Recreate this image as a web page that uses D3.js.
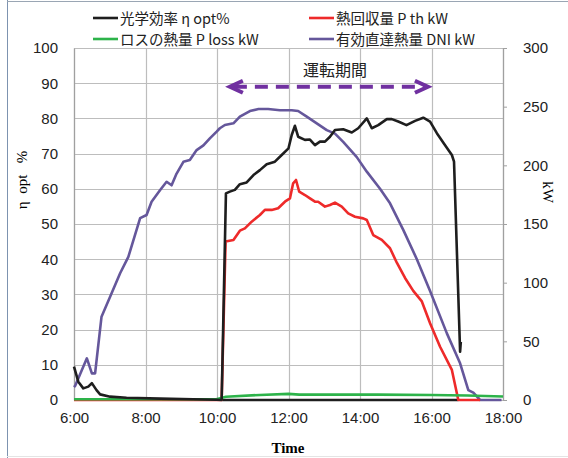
<!DOCTYPE html>
<html>
<head>
<meta charset="utf-8">
<script src="https://cdn.jsdelivr.net/npm/d3@7"></script>
<style>
  body { margin: 0; background: #fff; }
  svg { display: block; }
  .tick text { font-family: "Liberation Sans", Arial, sans-serif; font-size: 15px; fill: #222; }
  .leg { font-family: "Noto Sans CJK JP", sans-serif; font-size: 14.5px; fill: #222; }
</style>
</head>
<body>
<svg width="568" height="458"></svg>
<script>
// time in hours, value
var etaOpt = [[6.0,9.5],[6.12,5.2],[6.26,3.3],[6.40,3.8],[6.50,4.8],[6.63,2.8],[6.73,1.6],[7.01,0.95],[7.47,0.66],[8.41,0.4],[9.33,0.2],[9.99,0.05],[10.13,0],
  [10.25,58.7],[10.36,59.2],[10.50,59.7],[10.64,61.3],[10.83,61.8],[11.02,63.9],[11.20,65.3],[11.39,67],[11.62,67.7],[11.81,69.6],[12.0,71.5],[12.09,75.3],[12.18,77.9],
  [12.27,74.8],[12.46,73.9],[12.60,74],[12.74,72.4],[12.88,73.4],[13.02,73.4],[13.16,74.8],[13.30,76.7],[13.53,76.9],[13.77,76],[13.95,77.2],[14.19,80],[14.33,77.2],
  [14.51,78.1],[14.75,79.8],[14.89,79.8],[15.07,79.1],[15.30,78.1],[15.54,79.3],[15.77,80.2],[15.96,79.1],[16.15,75.8],[16.38,72.4],[16.57,69.6],[16.63,67.7],[16.80,13.7],[16.82,16.5]];
var etaBase = [[10.15,0],[16.75,0]];
var pTh = [[6.0,0],[10.13,0],[10.24,135],[10.46,136.4],[10.64,144.3],[10.78,146.3],[10.97,152],[11.20,157.7],[11.34,162],[11.53,162],[11.71,163.4],[11.90,169],[12.04,171.8],
  [12.13,184.7],[12.21,187.5],[12.30,177.5],[12.46,174.7],[12.60,171.8],[12.74,169],[12.83,169],[13.02,164.8],[13.16,166.2],[13.30,168.2],[13.49,164.8],[13.67,159],
  [13.86,156.2],[14.09,154.8],[14.19,153.4],[14.37,140.6],[14.61,136.4],[14.84,129.3],[15.03,117],[15.26,104],[15.49,93],[15.73,84],[15.96,65.4],[16.24,45.4],[16.57,25.6],[16.75,0],[17.36,0]];
var pLoss = [[6.0,0.6],[9.98,0.6],[10.25,2.8],[11.2,4.3],[12.0,5.2],[12.3,4.6],[14.5,4.6],[16.0,4.3],[17.0,3.8],[18.0,3.0]];
var dni = [[6.0,11],[6.03,12],[6.36,35.5],[6.50,22.7],[6.59,22.7],[6.77,71],[7.01,88],[7.29,108],[7.52,122],[7.85,155],[8.03,157.7],[8.17,169],[8.41,179],[8.59,186],
  [8.73,183],[8.87,193],[9.06,203],[9.24,204.5],[9.43,213],[9.62,217],[9.80,223],[9.99,228.7],[10.08,231.6],[10.22,234.4],[10.46,235.8],[10.64,241.5],[10.92,246.3],
  [11.16,248],[11.43,248],[11.76,247],[12.09,247],[12.27,246.3],[12.51,241.5],[12.79,235.8],[13.07,230],[13.30,227],[13.53,220],[13.91,207],[14.19,194.6],[14.56,180],
  [14.84,167.6],[15.21,145],[15.59,120],[15.96,93],[16.43,56.8],[16.80,31.3],[17.03,8.5],[17.17,6.2],[17.36,0],[17.96,0]];

var xTicks = [6, 8, 10, 12, 14, 16, 18];
var leftTicks = [0, 10, 20, 30, 40, 50, 60, 70, 80, 90, 100];
var rightTicks = [0, 50, 100, 150, 200, 250, 300];
var period = [10.36, 15.9];   // 運転期間 arrow, hours

var legendItems = [
  {name: "光学効率 η opt%", color: "#1e1e1e"},
  {name: "熱回収量 P th kW", color: "#ee2a2a"},
  {name: "ロスの熱量 P loss kW", color: "#2db34a"},
  {name: "有効直達熱量 DNI kW", color: "#65579b"}
];

var svg = d3.select("svg");
var x = d3.scaleLinear().domain([6, 18]).range([74, 503]);
var yL = d3.scaleLinear().domain([0, 100]).range([400, 48]);
var yR = d3.scaleLinear().domain([0, 300]).range([400, 48]);

// outer frame bits
svg.append("line").attr("x1", 7.5).attr("x2", 7.5).attr("y1", 0).attr("y2", 458).style("stroke", "#7d93b0").style("stroke-width", 1);
svg.append("line").attr("x1", 7).attr("x2", 568).attr("y1", 1.5).attr("y2", 1.5).style("stroke", "#9aa6b4").style("stroke-width", 1);
svg.append("line").attr("x1", 7).attr("x2", 568).attr("y1", 456.5).attr("y2", 456.5).style("stroke", "#e4e4e4").style("stroke-width", 1);

// grid
svg.append("g").selectAll("line").data(leftTicks).enter().append("line")
  .attr("x1", x(6)).attr("x2", x(18))
  .attr("y1", function(d) { return Math.round(yL(d)) + 0.5; })
  .attr("y2", function(d) { return Math.round(yL(d)) + 0.5; })
  .style("stroke", "#bdbdbd").style("stroke-width", 1.2);
svg.append("g").selectAll("line").data(xTicks).enter().append("line")
  .attr("x1", function(d) { return Math.round(x(d)) + 0.5; })
  .attr("x2", function(d) { return Math.round(x(d)) + 0.5; })
  .attr("y1", yL(100)).attr("y2", yL(0))
  .style("stroke", "#bdbdbd").style("stroke-width", 1.2);

// axes
var axL = svg.append("g").attr("transform", "translate(" + x(6) + ",0)")
  .call(d3.axisLeft(yL).tickValues(leftTicks).tickSize(0).tickPadding(16));
var axR = svg.append("g").attr("transform", "translate(" + x(18) + ",0)")
  .call(d3.axisRight(yR).tickValues(rightTicks).tickSize(4).tickPadding(16));
var axB = svg.append("g").attr("transform", "translate(0," + yL(0) + ")")
  .call(d3.axisBottom(x).tickValues(xTicks).tickSize(0).tickPadding(12)
    .tickFormat(function(d) { return d + ":00"; }));
[axL, axR, axB].forEach(function(a) {
  a.select(".domain").style("stroke", "#a0a0a0").style("stroke-width", 1.2);
  a.selectAll(".tick line").style("stroke", "#a0a0a0");
});
axB.select(".domain").remove();

// series
var line = function(ys) {
  return d3.line().x(function(d) { return x(d[0]); }).y(function(d) { return ys(d[1]); });
};
function draw(data, ys, color) {
  svg.append("path").datum(data).attr("d", line(ys))
    .style("fill", "none").style("stroke", color).style("stroke-width", 2.6)
    .style("stroke-linejoin", "round");
}
draw(etaBase, yL, legendItems[0].color);
draw(dni, yR, legendItems[3].color);
draw(pTh, yR, legendItems[1].color);
draw(pLoss, yR, legendItems[2].color);
draw(etaOpt, yL, legendItems[0].color);

// axis titles
svg.append("text").attr("transform", "translate(27,180) rotate(-90)")
  .attr("text-anchor", "middle").style("font-family", "'Liberation Serif', serif").style("font-size", "15px")
  .attr("xml:space", "preserve").text("η  opt   %");
svg.append("text").attr("transform", "translate(543,192) rotate(90)")
  .attr("text-anchor", "middle").style("font-family", "'Liberation Serif', serif").style("font-size", "15px")
  .text("kW");
svg.append("text").attr("x", 288).attr("y", 453)
  .attr("text-anchor", "middle").style("font-family", "'Liberation Serif', serif").style("font-size", "15px")
  .style("font-weight", "bold").text("Time");

// legend
var leg = svg.append("g").selectAll("g").data(legendItems).enter().append("g")
  .attr("transform", function(d, i) { return "translate(" + (i % 2 ? 309 : 93) + "," + (i < 2 ? 18 : 39) + ")"; });
leg.append("line").attr("x1", 0).attr("x2", 25).style("stroke", function(d) { return d.color; }).style("stroke-width", 2.6);
leg.append("text").attr("class", "leg").attr("x", 27).attr("y", 5.5).text(function(d) { return d.name; });

// 運転期間 annotation
var ay = yL(89);
var purple = "#7030a0";
svg.append("line").attr("x1", x(period[0]) + 4).attr("x2", x(period[1]) - 4).attr("y1", ay).attr("y2", ay)
  .style("stroke", purple).style("stroke-width", 4).style("stroke-dasharray", "13,8");
svg.append("path")
  .attr("d", "M" + (x(period[0]) + 13) + "," + (ay - 6) + "L" + x(period[0]) + "," + ay + "L" + (x(period[0]) + 13) + "," + (ay + 6))
  .style("fill", "none").style("stroke", purple).style("stroke-width", 4).style("stroke-linejoin", "miter");
svg.append("path")
  .attr("d", "M" + (x(period[1]) - 13) + "," + (ay - 6) + "L" + x(period[1]) + "," + ay + "L" + (x(period[1]) - 13) + "," + (ay + 6))
  .style("fill", "none").style("stroke", purple).style("stroke-width", 4).style("stroke-linejoin", "miter");
svg.append("text").attr("x", (x(period[0]) + x(period[1])) / 2 + 6).attr("y", 76)
  .attr("text-anchor", "middle").style("font-family", "'Noto Sans CJK JP', sans-serif").style("font-size", "16px")
  .style("fill", "#222").text("運転期間");
</script>
</body>
</html>
